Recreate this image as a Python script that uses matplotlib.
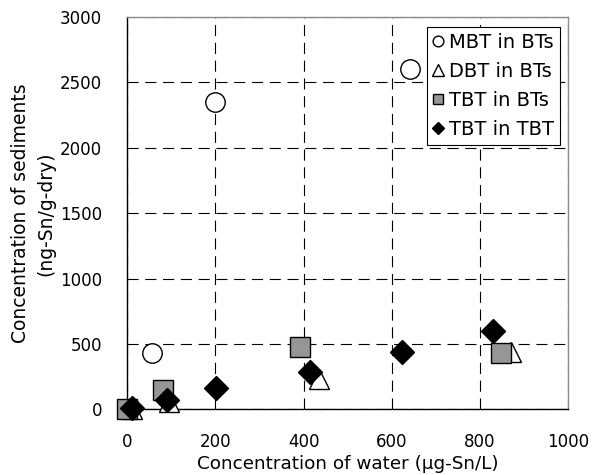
import numpy as np
import matplotlib.pyplot as plt
import matplotlib

matplotlib.rcParams['font.family'] = ['DejaVu Sans', 'Noto Sans CJK JP']
matplotlib.rcParams['axes.unicode_minus'] = False

# water (ug-Sn/L) vs sediment (ng-Sn/g-dry)
mbt_x = [55, 200, 640]
mbt_y = [430, 2350, 2600]
dbt_x = [10, 95, 435, 870]
dbt_y = [0, 60, 230, 440]
tbt_bts_x = [0, 80, 392, 848]
tbt_bts_y = [0, 150, 475, 430]
tbt_tbt_x = [10, 90, 202, 414, 622, 830]
tbt_tbt_y = [8, 75, 165, 288, 436, 600]

fig = plt.figure(figsize=(5.92, 4.75), dpi=100)
ax = fig.add_axes([0.215, 0.138, 0.745, 0.826])

ms = 14
ax.plot(mbt_x, mbt_y, 'o', ms=ms, mfc='white', mec='black', mew=1.0,
        label='MBT in BTs', clip_on=False, zorder=3)
ax.plot(dbt_x, dbt_y, '^', ms=ms + 1, mfc='white', mec='black', mew=1.0,
        label='DBT in BTs', clip_on=False, zorder=4)
ax.plot(tbt_bts_x, tbt_bts_y, 's', ms=ms, mfc='#969696', mec='black', mew=1.0,
        label='TBT in BTs', clip_on=False, zorder=5)
ax.plot(tbt_tbt_x, tbt_tbt_y, 'D', ms=ms - 2, mfc='black', mec='black', mew=1.0,
        label='TBT in TBT', clip_on=False, zorder=6)

ax.set_xlim(0, 1000)
ax.set_ylim(0, 3000)
ax.set_xticks(np.arange(0, 1001, 200))
ax.set_yticks(np.arange(0, 3001, 500))
ax.tick_params(length=0, labelsize=12)
ax.tick_params(axis='x', pad=17)
ax.tick_params(axis='y', pad=18)
ax.grid(True, color='black', linestyle=(0, (10, 6)), linewidth=0.8)
ax.set_axisbelow(True)

for s in ['left', 'bottom']:
    ax.spines[s].set_color('black')
    ax.spines[s].set_linewidth(1.0)
for s in ['top', 'right']:
    ax.spines[s].set_color('#8c8c8c')
    ax.spines[s].set_linewidth(1.0)

ax.set_xlabel('Concentration of water (μg-Sn/L)', fontsize=13.2)
ax.set_ylabel('Concentration of sediments\n(ng-Sn/g-dry)', fontsize=13.5,
              linespacing=1.45)
ax.xaxis.label.set_va('bottom')
ax.xaxis.set_label_coords(0.5, -0.163)
ax.yaxis.set_label_coords(-0.162, 0.5)

leg = ax.legend(loc='upper right', bbox_to_anchor=(0.99, 0.985), fontsize=14,
                markerscale=0.55, handlelength=0.6, handletextpad=0.25,
                labelspacing=0.52, borderpad=0.3, borderaxespad=0.2,
                fancybox=False, framealpha=1, edgecolor='black')
leg.get_frame().set_linewidth(0.8)

fig.savefig('out.png', dpi=100)
